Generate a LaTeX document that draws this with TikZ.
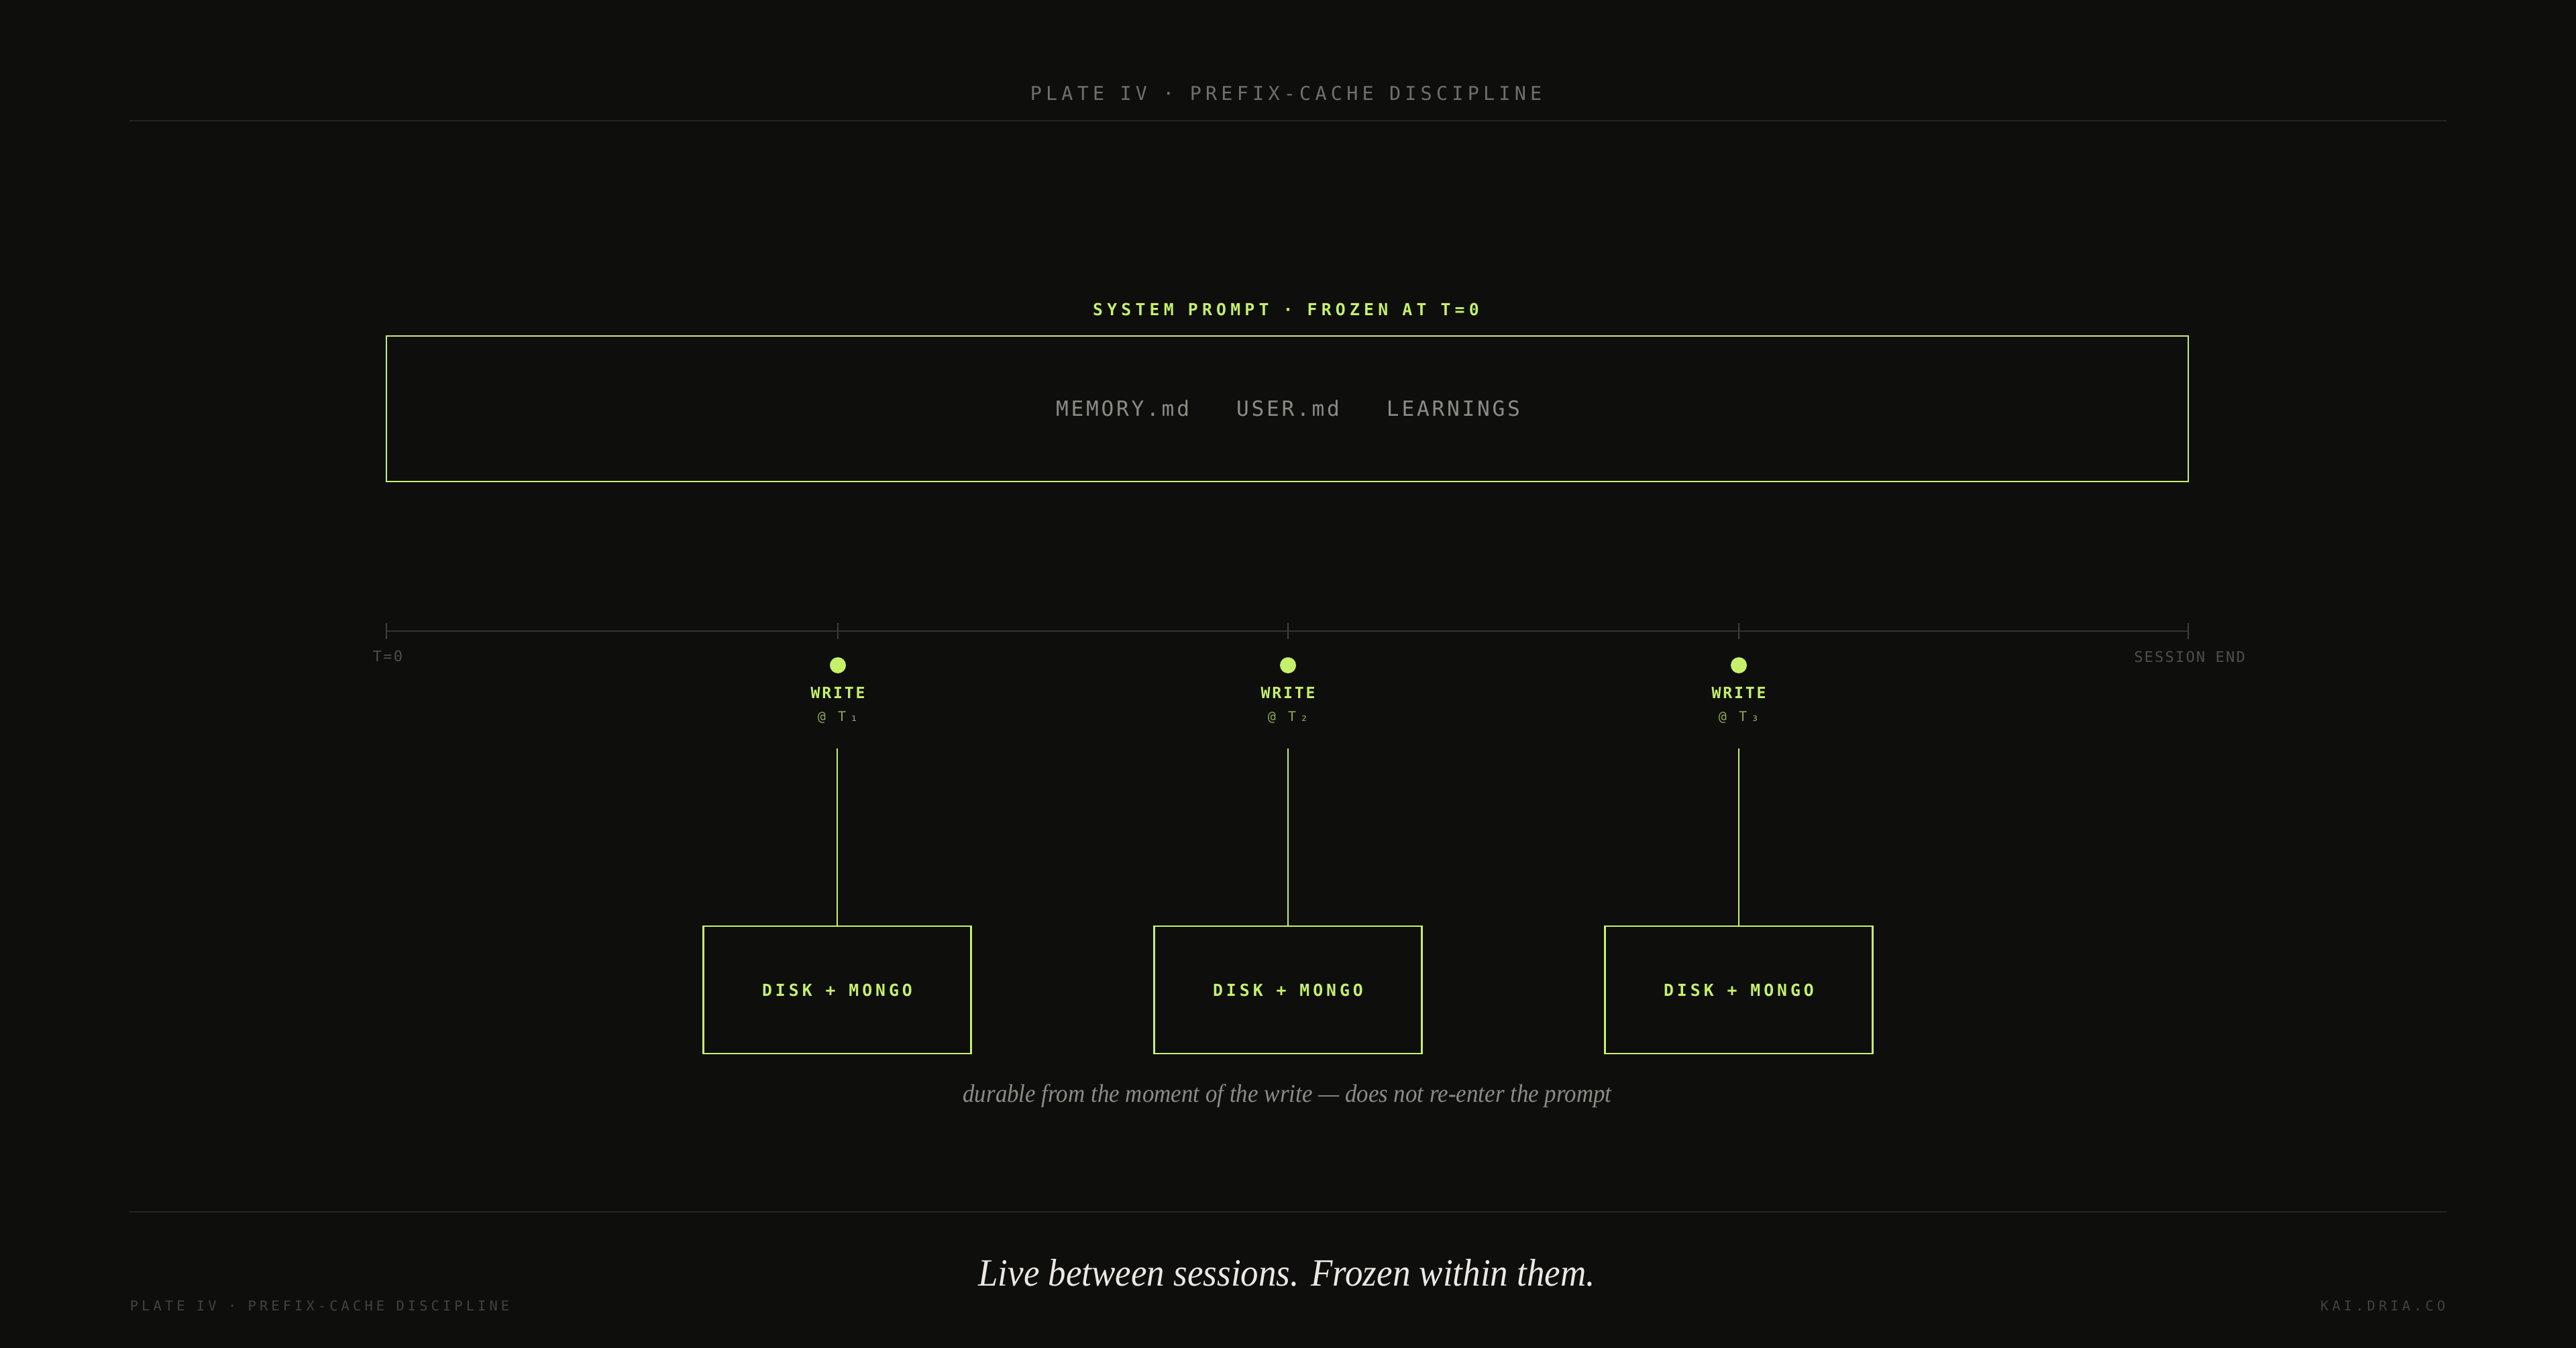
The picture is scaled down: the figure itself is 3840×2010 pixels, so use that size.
\documentclass[tikz,border=0pt]{standalone}
\usepackage{fontspec}
\usepackage{tikz}

\setmainfont{Liberation Serif}
\newfontfamily\plateserif[FakeStretch=0.92]{Liberation Serif}
\newfontfamily\titlemono[LetterSpace=22]{DejaVu Sans Mono}
\newfontfamily\labelmono[LetterSpace=25]{DejaVu Sans Mono}
\newfontfamily\filemono[LetterSpace=12]{DejaVu Sans Mono}
\newfontfamily\tickmono[LetterSpace=10]{DejaVu Sans Mono}
\newfontfamily\writemono[LetterSpace=12]{DejaVu Sans Mono}
\newfontfamily\atmono[LetterSpace=30]{DejaVu Sans Mono}
\newfontfamily\diskmono[LetterSpace=20]{DejaVu Sans Mono}
\newfontfamily\footmono[LetterSpace=25]{DejaVu Sans Mono}

\definecolor{platebg}{RGB}{14,14,13}
\definecolor{lime}{RGB}{197,240,106}
\definecolor{limedim}{RGB}{140,168,86}
\definecolor{inkgray}{RGB}{112,112,107}
\definecolor{filegray}{RGB}{140,140,134}
\definecolor{tickgray}{RGB}{78,78,74}
\definecolor{footgray}{RGB}{66,66,63}
\definecolor{rulegray}{RGB}{36,36,34}
\definecolor{axisgray}{RGB}{50,50,47}
\definecolor{markgray}{RGB}{64,64,61}
\definecolor{tagwhite}{RGB}{236,233,225}

\begin{document}
\begin{tikzpicture}[x=0.25pt,y=0.25pt,yscale=-1,xscale=1,
  every node/.style={inner sep=0pt},
  rule/.style={draw=rulegray, line width=0.5pt},
  axis/.style={draw=axisgray, line width=0.5pt},
  tickmark/.style={draw=markgray, line width=0.5pt},
  writedot/.style={circle, fill=lime, minimum size=6pt, inner sep=0pt},
  diskbox/.style={draw=lime, line width=0.6pt, minimum width=99.75pt, minimum height=47.5pt, inner sep=0pt,
    text=lime, font=\diskmono\bfseries\fontsize{6.2}{7}\selectfont},
  link/.style={draw=lime, line width=0.45pt},
  writelabel/.style={anchor=base, text=lime, font=\writemono\bfseries\fontsize{5.8}{7}\selectfont},
  atlabel/.style={anchor=base, text=limedim, font=\atmono\fontsize{5}{6}\selectfont},
  ticklabel/.style={anchor=base, text=tickgray, font=\tickmono\fontsize{5.5}{6}\selectfont},
  footlabel/.style={text=footgray, font=\footmono\fontsize{5.1}{6}\selectfont}]

%Background
\fill[platebg] (0,0) rectangle (3840,2010);

% Text Node
\node[anchor=base, text=inkgray, font=\titlemono\fontsize{7.1}{8}\selectfont] (title) at (1917,150) {PLATE IV · PREFIX-CACHE DISCIPLINE};
%Straight Lines
\draw[rule] (193,180) -- (3647,180);

% Text Node
\node[anchor=base, text=lime, font=\labelmono\bfseries\fontsize{6.2}{7}\selectfont] (promptlabel) at (1917,471) {SYSTEM PROMPT · FROZEN AT T=0};
%Shape: Rectangle
\draw[draw=lime, line width=0.6pt] (576,501) rectangle (3262,718);
% Text Node
\node[anchor=base, text=filegray, font=\filemono\fontsize{7.8}{9}\selectfont] (files) at (1920,621) {MEMORY.md\hspace{17.5pt}USER.md\hspace{17.5pt}LEARNINGS};

%Straight Lines
\coordinate (t0) at (576,941);
\coordinate (tend) at (3262,941);
\draw[axis] (t0) -- (tend);
\draw[tickmark] (576,929) -- (576,953);
\draw[tickmark] (1249,929) -- (1249,953);
\draw[tickmark] (1920,929) -- (1920,953);
\draw[tickmark] (2592,929) -- (2592,953);
\draw[tickmark] (3262,929) -- (3262,953);

% Text Node
\node[ticklabel] (tzero) at (578,986) {T=0};
% Text Node
\node[ticklabel] (tsend) at (3264,987) {SESSION END};

%Write 1
\node[writedot] (dot1) at (1249,992) {};
\node[writelabel] (write1) at (1249,1041) {WRITE};
\node[atlabel] (at1) at (1249,1075) {@ T₁};
\coordinate (drop1) at (1248,1116);
\node[diskbox] (disk1) at (1248,1476) {DISK + MONGO};
\draw[link] (drop1) -- (disk1);

%Write 2
\node[writedot] (dot2) at (1920,992) {};
\node[writelabel] (write2) at (1920,1041) {WRITE};
\node[atlabel] (at2) at (1920,1075) {@ T₂};
\coordinate (drop2) at (1920,1116);
\node[diskbox] (disk2) at (1920,1476) {DISK + MONGO};
\draw[link] (drop2) -- (disk2);

%Write 3
\node[writedot] (dot3) at (2592,992) {};
\node[writelabel] (write3) at (2592,1041) {WRITE};
\node[atlabel] (at3) at (2592,1075) {@ T₃};
\coordinate (drop3) at (2592,1116);
\node[diskbox] (disk3) at (2592,1476) {DISK + MONGO};
\draw[link] (drop3) -- (disk3);

% Text Node
\node[anchor=base, text=filegray, font=\plateserif\itshape\fontsize{9.5}{11}\selectfont] (durable) at (1919,1643) {durable from the moment of the write — does not re-enter the prompt};

%Straight Lines
\draw[rule] (193,1807) -- (3647,1807);

% Text Node
\node[anchor=base, text=tagwhite, font=\plateserif\itshape\fontsize{14.4}{17}\selectfont] (tagline) at (1918,1917) {Live between sessions. Frozen within them.};
% Text Node
\node[footlabel, anchor=base west] (footleft) at (193,1954) {PLATE IV · PREFIX-CACHE DISCIPLINE};
% Text Node
\node[footlabel, anchor=base east] (footright) at (3646,1954) {KAI.DRIA.CO};

\end{tikzpicture}
\end{document}
